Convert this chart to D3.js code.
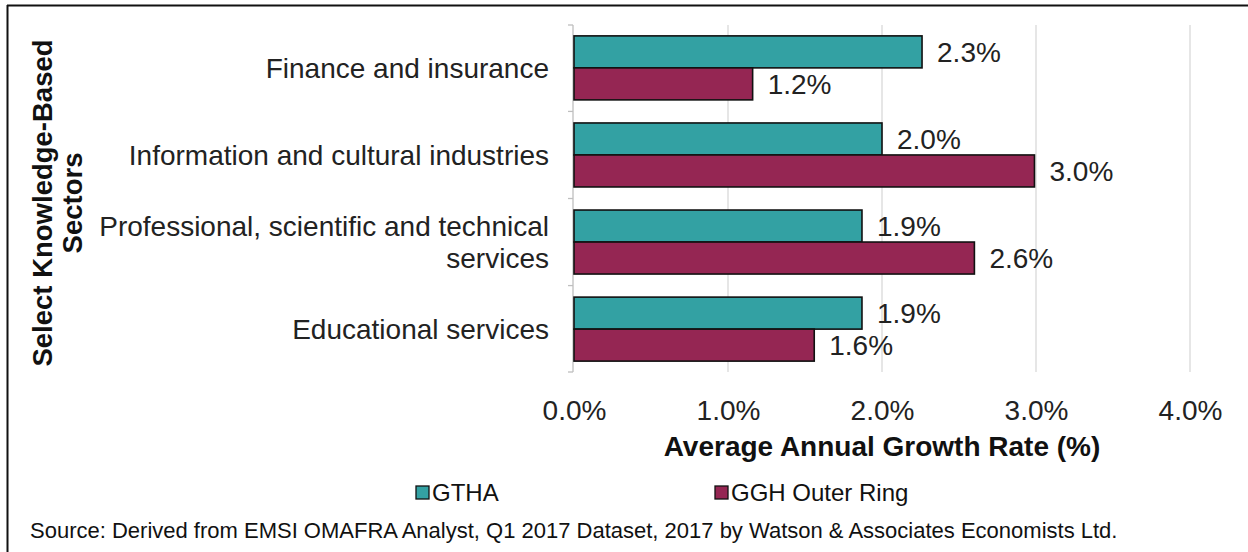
<!DOCTYPE html>
<html><head><meta charset="utf-8">
<script src="https://cdn.jsdelivr.net/npm/d3@7"></script>
<style>body{margin:0;background:#fff;font-family:"Liberation Sans",Arial,sans-serif}</style>
</head><body><svg id="c" width="1248" height="552"></svg>
<script>
const categories = ["Finance and insurance","Information and cultural industries","Professional, scientific and technical services","Educational services"];
const categoryLines = [["Finance and insurance"],["Information and cultural industries"],["Professional, scientific and technical","services"],["Educational services"]];
const seriesNames = ["GTHA","GGH Outer Ring"];
const gthaValues = [0.0226, 0.0200, 0.0187, 0.0187];
const gghValues = [0.0116, 0.0299, 0.0260, 0.0156];
const valueLabels = [["2.3%","1.2%"],["2.0%","3.0%"],["1.9%","2.6%"],["1.9%","1.6%"]];
const xTicks = [0, 0.01, 0.02, 0.03, 0.04];
const colors = ["#33a1a3","#952653"];

(function(){
const svg = d3.select("#c");
const pL = 574, pR = 1190, pT = 25, pB = 372;
const FS = 28;
const x = d3.scaleLinear().domain([0,0.04]).range([pL,pR]);
const y = d3.scaleBand().domain(categories).range([pT,pB]).paddingInner(0.265).paddingOuter(0.125);
const ys = d3.scaleBand().domain(seriesNames).range([0,y.bandwidth()]);

// frame
svg.append("line").attr("x1",7).attr("x2",1248).attr("y1",5.5).attr("y2",5.5).attr("stroke","#111").attr("stroke-width",2);
svg.append("line").attr("x1",7.5).attr("x2",7.5).attr("y1",5).attr("y2",552).attr("stroke","#111").attr("stroke-width",2);

// gridlines
svg.append("g").selectAll("line").data(xTicks.slice(1)).join("line")
  .attr("x1",d=>x(d)).attr("x2",d=>x(d)).attr("y1",pT).attr("y2",pB)
  .attr("stroke","#d9d9d9").attr("stroke-width",1.3);

// x axis labels
const xa = svg.append("g").attr("transform",`translate(0,${pB})`)
  .call(d3.axisBottom(x).tickValues(xTicks).tickFormat(d3.format(".1%")).tickSize(0).tickPadding(28));
xa.select(".domain").remove();
xa.selectAll("text").attr("font-size",FS).attr("fill","#222").attr("font-family","Liberation Sans, Arial");

// y axis
const ya = svg.append("g").attr("transform",`translate(${pL - 1},0)`);
ya.append("line").attr("x1",0).attr("x2",0).attr("y1",pT).attr("y2",pB).attr("stroke","#bfbfbf").attr("stroke-width",1.3);
const bounds = [pT, ...categories.map(c=>y(c)+y.bandwidth()+ y.step()*y.paddingInner()/2).slice(0,3), pB];
ya.selectAll("line.t").data(bounds).join("line").attr("class","t")
  .attr("x1",-5).attr("x2",0).attr("y1",d=>d).attr("y2",d=>d).attr("stroke","#bfbfbf").attr("stroke-width",1.3);

// category labels
categories.forEach((c,i)=>{
  const lines = categoryLines[i];
  const cy = y(c)+y.bandwidth()/2;
  const t = svg.append("text").attr("x",549).attr("text-anchor","end").attr("font-size",FS).attr("fill","#222");
  lines.forEach((ln,j)=>{
    t.append("tspan").attr("x",549).attr("y", cy + (j-(lines.length-1)/2)*32).attr("dy","0.35em").text(ln);
  });
});

// bars
const data = [];
categories.forEach((c,i)=>{
  data.push({c, s:seriesNames[0], v:gthaValues[i], label:valueLabels[i][0], k:0});
  data.push({c, s:seriesNames[1], v:gghValues[i], label:valueLabels[i][1], k:1});
});
svg.append("g").selectAll("rect").data(data).join("rect")
  .attr("x",x(0)).attr("y",d=>y(d.c)+ys(d.s)).attr("width",d=>x(d.v)-x(0)).attr("height",ys.bandwidth())
  .attr("fill",d=>colors[d.k]).attr("stroke","#111").attr("stroke-width",1.6);
svg.append("g").selectAll("text").data(data).join("text")
  .attr("x",d=>x(d.v)+15).attr("y",d=>y(d.c)+ys(d.s)+ys.bandwidth()/2).attr("dy","0.35em")
  .attr("font-size",FS).attr("fill","#222").text(d=>d.label);

// y title
const yt = svg.append("text").attr("transform","translate(0,203) rotate(-90)").attr("text-anchor","middle")
  .attr("font-size",27.5).attr("font-weight","bold").attr("fill","#111");
yt.append("tspan").attr("x",0).attr("y",52).text("Select Knowledge-Based");
yt.append("tspan").attr("x",0).attr("y",82).text("Sectors");

// x title
svg.append("text").attr("x",(pL+pR)/2).attr("y",456).attr("text-anchor","middle")
  .attr("font-size",FS).attr("font-weight","bold").attr("fill","#111").text("Average Annual Growth Rate (%)");

// legend
const legX = [416, 715];
seriesNames.forEach((s,i)=>{
  svg.append("rect").attr("x",legX[i]).attr("y",486).attr("width",13).attr("height",13)
    .attr("fill",colors[i]).attr("stroke","#111").attr("stroke-width",1.3);
  svg.append("text").attr("x",legX[i]+16).attr("y",493).attr("dy","0.35em").attr("font-size",24).attr("fill","#111").text(s);
});

// source
svg.append("text").attr("x",30).attr("y",538).attr("font-size",22).attr("fill","#111")
  .text("Source: Derived from EMSI OMAFRA Analyst, Q1 2017 Dataset, 2017 by Watson & Associates Economists Ltd.");
})();
</script></body></html>
